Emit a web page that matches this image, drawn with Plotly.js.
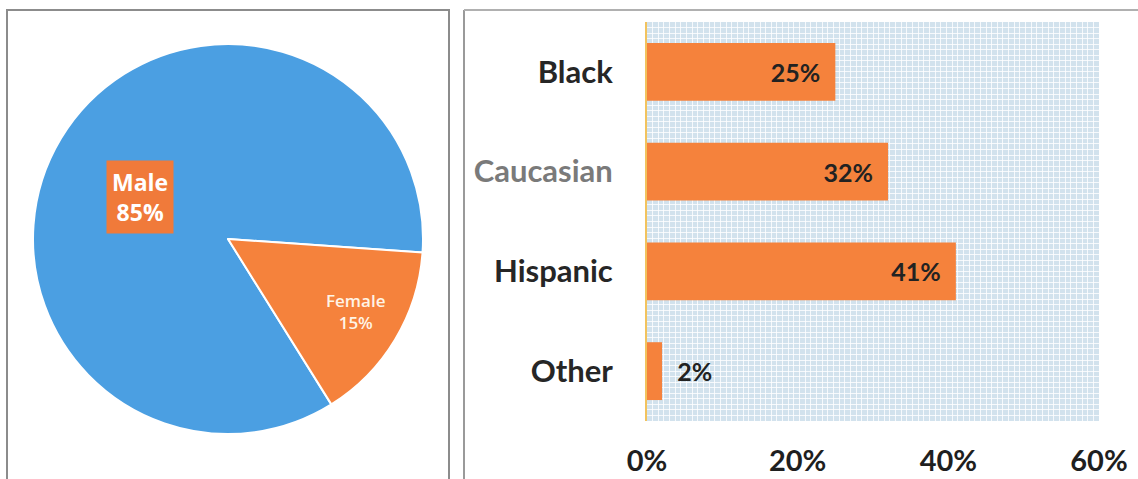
<!DOCTYPE html>
<html><head><meta charset="utf-8">
<script src="https://cdn.plot.ly/plotly-3.0.1.min.js"></script>
<style>html,body{margin:0;padding:0;background:#fff}</style>
</head><body>
<div id="chart" style="width:1138px;height:479px"></div>
<script>
// ---- data ----
const genderLabels = ['Male', 'Female'];
const genderValues = [85, 15];
const raceCategories = ['Black', 'Caucasian', 'Hispanic', 'Other'];
const raceValues = [25, 32, 41, 2];
const xTickValues = [0, 20, 40, 60];
const xTickLabels = ['0%', '20%', '40%', '60%'];

// ---- helpers (pixel -> paper) ----
const W = 1138, H = 479;
const px = p => p / W;
const py = p => 1 - p / H;

const BLUE = '#4b9fe2', ORANGE = '#f5823c';
const FONT = 'Lato, Open Sans, sans-serif';

const pie = {
  type: 'pie', labels: genderLabels, values: genderValues,
  sort: false, direction: 'clockwise', rotation: 148,
  marker: {colors: [BLUE, ORANGE], line: {color: '#ffffff', width: 2}},
  textinfo: 'none', hoverinfo: 'label+percent',
  domain: {x: [px(33), px(423)], y: [py(435), py(43)]},
  showlegend: false
};

const NB = '\u00A0\u00A0';
const barText = raceValues.map(v => v < 5 ? NB + v + '%' : v + '%' + NB);
const barPos = raceValues.map(v => v < 5 ? 'outside' : 'inside');
const barFont = {family: FONT, size: 25, color: '#222', weight: 700};
const bar = {
  type: 'bar', orientation: 'h', y: raceCategories, x: raceValues,
  marker: {color: ORANGE}, width: 0.58,
  text: barText, textposition: barPos, insidetextanchor: 'end',
  textfont: barFont, outsidetextfont: barFont, insidetextfont: barFont,
  constraintext: 'none', cliponaxis: false,
  xaxis: 'x', yaxis: 'y', showlegend: false, hoverinfo: 'y+x'
};

const yTickText = raceCategories.map(c => c === 'Caucasian' ? '<span style="color:#7a7a7a">' + c + '</span>' : c);

const shapes = [
  {type: 'rect', xref: 'paper', yref: 'paper', x0: px(7), x1: px(449), y0: py(490), y1: py(10),
   line: {color: '#8c8c8c', width: 2}},
  {type: 'line', xref: 'paper', yref: 'paper', x0: px(464), x1: px(464), y0: py(479), y1: py(10),
   line: {color: '#9a9a9a', width: 2}},
  {type: 'line', xref: 'paper', yref: 'paper', x0: px(464), x1: px(1140), y0: py(10), y1: py(10),
   line: {color: '#b0b0b0', width: 2}}
];

const annotations = [
  {xref: 'paper', yref: 'paper', x: px(140), y: py(197), xanchor: 'center', yanchor: 'middle',
   text: genderLabels[0] + '<br>' + genderValues[0] + '%',
   showarrow: false, font: {family: 'Open Sans, sans-serif', size: 23, color: '#ffffff', weight: 700},
   bgcolor: '#f07a3a', borderpad: 5, align: 'center'},
  {xref: 'paper', yref: 'paper', x: px(355), y: py(311), xanchor: 'center', yanchor: 'middle',
   text: genderLabels[1] + '<br>' + genderValues[1] + '%',
   showarrow: false, font: {family: 'Open Sans, sans-serif', size: 17, color: '#fff4e6', weight: 600},
   align: 'center'}
];

const layout = {
  width: W, height: H, margin: {l: 0, r: 0, t: 0, b: 0},
  paper_bgcolor: '#ffffff', plot_bgcolor: '#d2e2ed',
  xaxis: {
    domain: [px(647), px(1099)], range: [0, 60], fixedrange: true,
    tickvals: xTickValues, ticktext: xTickLabels,
    showgrid: false, zeroline: false, ticks: '', ticklabelstandoff: 20,
    tickfont: {family: FONT, size: 29, color: '#1f1f1f', weight: 700},
    minor: {dtick: 0.75, showgrid: true, gridcolor: 'rgba(255,255,255,0.8)', gridwidth: 1}
  },
  yaxis: {
    domain: [py(421), py(22)], autorange: 'reversed', type: 'category',
    categoryorder: 'array', categoryarray: raceCategories,
    tickvals: raceCategories, ticktext: yTickText,
    showgrid: false, zeroline: false, ticks: '', ticklabelstandoff: 26,
    showline: true, linecolor: '#f2c35e', linewidth: 2,
    tickfont: {family: FONT, size: 31, color: '#262626', weight: 700}
  },
  yaxis2: {
    domain: [py(421), py(22)], overlaying: 'y', range: [0, 72], showticklabels: false,
    showgrid: true, dtick: 1, gridcolor: 'rgba(255,255,255,0.8)', gridwidth: 1, zeroline: false, ticks: ''
  },
  shapes: shapes, annotations: annotations
};

const gridHelper = {type: 'scatter', x: [null], y: [null], yaxis: 'y2', xaxis: 'x', mode: 'markers',
  showlegend: false, hoverinfo: 'skip'};

Plotly.newPlot('chart', [gridHelper, bar, pie], layout, {displayModeBar: false, staticPlot: true});
</script>
</body></html>
